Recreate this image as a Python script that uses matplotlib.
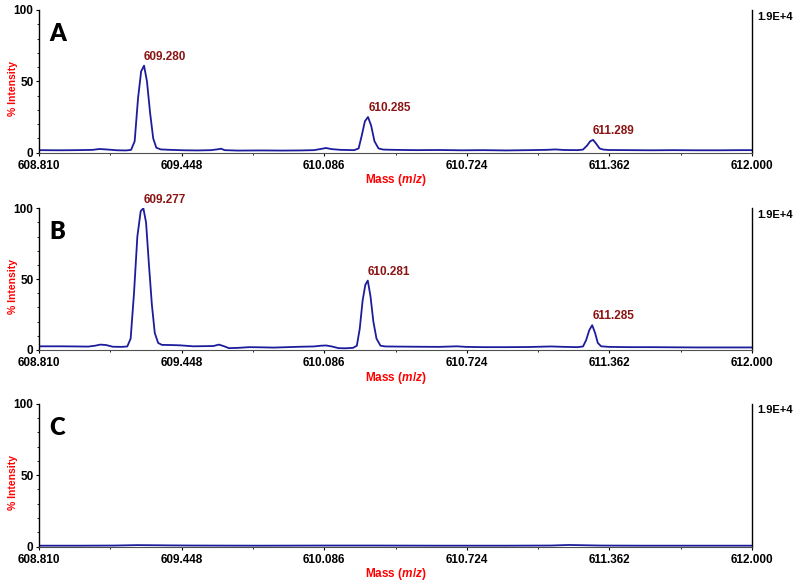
import numpy as np
import matplotlib
matplotlib.use("Agg")
import matplotlib.pyplot as plt
from matplotlib.ticker import FixedLocator, MultipleLocator

plt.rcParams['font.family'] = ['Liberation Sans', 'DejaVu Sans']
plt.rcParams['font.weight'] = 'bold'
plt.rcParams['mathtext.fontset'] = 'custom'
plt.rcParams['mathtext.rm'] = 'Liberation Sans:bold'
plt.rcParams['mathtext.it'] = 'Liberation Sans:italic:bold'

# x axis
x_ticks = [608.810, 609.448, 610.086, 610.724, 611.362, 612.000]
full_scale = "1.9E+4"

# panel A spectrum
mass_a = [608.810, 608.900, 608.980, 609.050, 609.080, 609.110, 609.160, 609.200,
          609.222, 609.238, 609.253, 609.267, 609.280, 609.293, 609.307, 609.321,
          609.335, 609.355, 609.400, 609.460, 609.520, 609.580, 609.610, 609.625,
          609.640, 609.700, 609.800, 609.900, 609.980, 610.040, 610.070, 610.094,
          610.120, 610.160, 610.220, 610.240, 610.254, 610.268, 610.282, 610.296,
          610.311, 610.329, 610.350, 610.400, 610.500, 610.600, 610.700, 610.800,
          610.900, 611.000, 611.080, 611.120, 611.160, 611.220, 611.244, 611.262,
          611.276, 611.289, 611.302, 611.318, 611.334, 611.360, 611.450, 611.550,
          611.650, 611.750, 611.850, 611.950, 612.000]
int_a = [1.8, 1.7, 1.8, 2.0, 2.6, 2.3, 1.7, 1.6,
         2.0, 8.0, 38.0, 57.0, 61.0, 50.0, 28.0, 10.0,
         3.5, 2.3, 2.0, 1.7, 1.6, 1.8, 2.4, 2.8,
         1.8, 1.5, 1.6, 1.5, 1.6, 1.8, 2.6, 3.3,
         2.5, 2.0, 1.8, 3.0, 12.0, 22.0, 25.0, 19.0,
         8.0, 3.0, 2.2, 2.0, 1.8, 1.9, 1.7, 1.8,
         1.6, 1.8, 2.0, 2.3, 1.9, 1.8, 2.2, 5.0,
         8.0, 9.0, 6.5, 3.0, 2.2, 1.9, 1.8, 1.7,
         1.8, 1.7, 1.7, 1.8, 1.8]
peaks_a = [609.280, 610.285, 611.289]
peak_int_a = [61.0, 25.0, 9.0]

# panel B spectrum
mass_b = [608.810, 608.900, 608.980, 609.030, 609.060, 609.085, 609.110, 609.140,
          609.180, 609.205, 609.220, 609.235, 609.250, 609.265, 609.277, 609.289,
          609.302, 609.315, 609.328, 609.343, 609.360, 609.400, 609.440, 609.500,
          609.550, 609.590, 609.615, 609.635, 609.660, 609.700, 609.750, 609.800,
          609.860, 609.920, 609.980, 610.040, 610.070, 610.094, 610.120, 610.150,
          610.180, 610.215, 610.232, 610.245, 610.258, 610.270, 610.281, 610.293,
          610.306, 610.320, 610.338, 610.360, 610.420, 610.500, 610.600, 610.680,
          610.720, 610.800, 610.900, 611.000, 611.100, 611.160, 611.220, 611.244,
          611.258, 611.272, 611.285, 611.298, 611.310, 611.325, 611.360, 611.450,
          611.550, 611.650, 611.750, 611.850, 611.950, 612.000]
int_b = [2.6, 2.6, 2.5, 2.4, 3.0, 3.8, 3.5, 2.3,
         2.2, 2.5, 8.0, 40.0, 80.0, 98.0, 100.0, 90.0,
         60.0, 32.0, 12.0, 5.0, 3.6, 3.5, 3.3, 2.6,
         2.7, 2.8, 3.8, 2.8, 1.3, 1.5, 2.0, 1.9,
         1.7, 2.0, 2.3, 2.5, 3.0, 3.2, 2.5, 1.3,
         1.2, 1.5, 3.0, 15.0, 35.0, 46.0, 49.0, 38.0,
         20.0, 8.0, 3.0, 2.5, 2.4, 2.3, 2.2, 2.6,
         2.2, 2.0, 2.0, 2.1, 2.5, 2.2, 2.0, 2.5,
         7.0, 14.0, 17.5, 12.0, 5.0, 2.6, 2.2, 2.0,
         2.0, 1.9, 1.8, 1.8, 1.8, 1.8]
peaks_b = [609.277, 610.281, 611.285]
peak_int_b = [100.0, 49.0, 17.5]

# panel C spectrum (flat)
mass_c = [608.810, 609.000, 609.150, 609.250, 609.330, 609.400, 609.500, 609.800,
          610.100, 610.300, 610.600, 610.900, 611.100, 611.180, 611.250, 611.320,
          611.500, 611.800, 612.000]
int_c = [0.7, 0.7, 0.8, 1.1, 1.0, 0.9, 0.8, 0.7,
         0.8, 0.8, 0.7, 0.7, 0.8, 1.2, 1.0, 0.8,
         0.7, 0.7, 0.7]
peaks_c = []
peak_int_c = []

panels = [("A", mass_a, int_a, peaks_a, peak_int_a),
          ("B", mass_b, int_b, peaks_b, peak_int_b),
          ("C", mass_c, int_c, peaks_c, peak_int_c)]

# axes rectangles in figure fractions
rects = [[0.04875, 0.7385, 0.89125, 0.2444],
         [0.04875, 0.4007, 0.89125, 0.2426],
         [0.04875, 0.0639, 0.89125, 0.2450]]

fig = plt.figure(figsize=(8, 5.84), dpi=100)
for (letter, mz, inten, pk, pk_int), r in zip(panels, rects):
    ax = fig.add_axes(r)
    ax.plot(mz, inten, color='#1c1c9c', lw=1.3)
    ax.set_xlim(x_ticks[0], x_ticks[-1])
    ax.set_ylim(0, 100)

    ax.xaxis.set_major_locator(FixedLocator(x_ticks))
    mids = [(a + b) / 2 for a, b in zip(x_ticks[:-1], x_ticks[1:])]
    ax.xaxis.set_minor_locator(FixedLocator(mids))
    ax.set_xticklabels(["%.3f" % t for t in x_ticks])
    ax.yaxis.set_major_locator(FixedLocator([0, 50, 100]))
    ax.yaxis.set_minor_locator(MultipleLocator(10))

    ax.tick_params(axis='both', which='major', labelsize=8.5, length=2.5, width=0.8)
    ax.tick_params(axis='x', which='major', pad=2.5)
    ax.tick_params(axis='y', which='major', pad=1.5)
    ax.tick_params(axis='both', which='minor', length=1.5, width=0.6)
    for lab in ax.get_xticklabels() + ax.get_yticklabels():
        lab.set_fontweight('bold')

    ax.spines['top'].set_visible(False)
    ax.spines['bottom'].set_color('#505050')
    ax.spines['left'].set_color('black')
    ax.spines['right'].set_color('black')
    ax.spines['left'].set_linewidth(1.0)
    ax.spines['right'].set_linewidth(1.0)

    ax.set_ylabel("% Intensity", color='red', fontsize=7.5, fontweight='bold')
    ax.yaxis.set_label_coords(-0.030, 0.45)
    ax.set_xlabel("Mass ($\\mathit{m/z}$)", color='red', fontsize=8.5,
                  fontweight='bold', labelpad=0.5)

    # panel letter: x in axes fraction, y in data units
    ax.text(0.0145, 78, letter, transform=ax.get_yaxis_transform(), fontsize=17,
            fontweight='heavy', family='Lato', va='baseline', ha='left')
    ax.text(1.007, 0.953, full_scale, transform=ax.transAxes, fontsize=8,
            fontweight='bold', va='center', ha='left')

    for m, v in zip(pk, pk_int):
        ax.annotate("%.3f" % m, xy=(m, v), xytext=(0, 2), textcoords='offset points',
                    ha='left', va='bottom', color='#8b1414', fontsize=8.5,
                    fontweight='bold', annotation_clip=False)

fig.savefig("out.png", dpi=100)
